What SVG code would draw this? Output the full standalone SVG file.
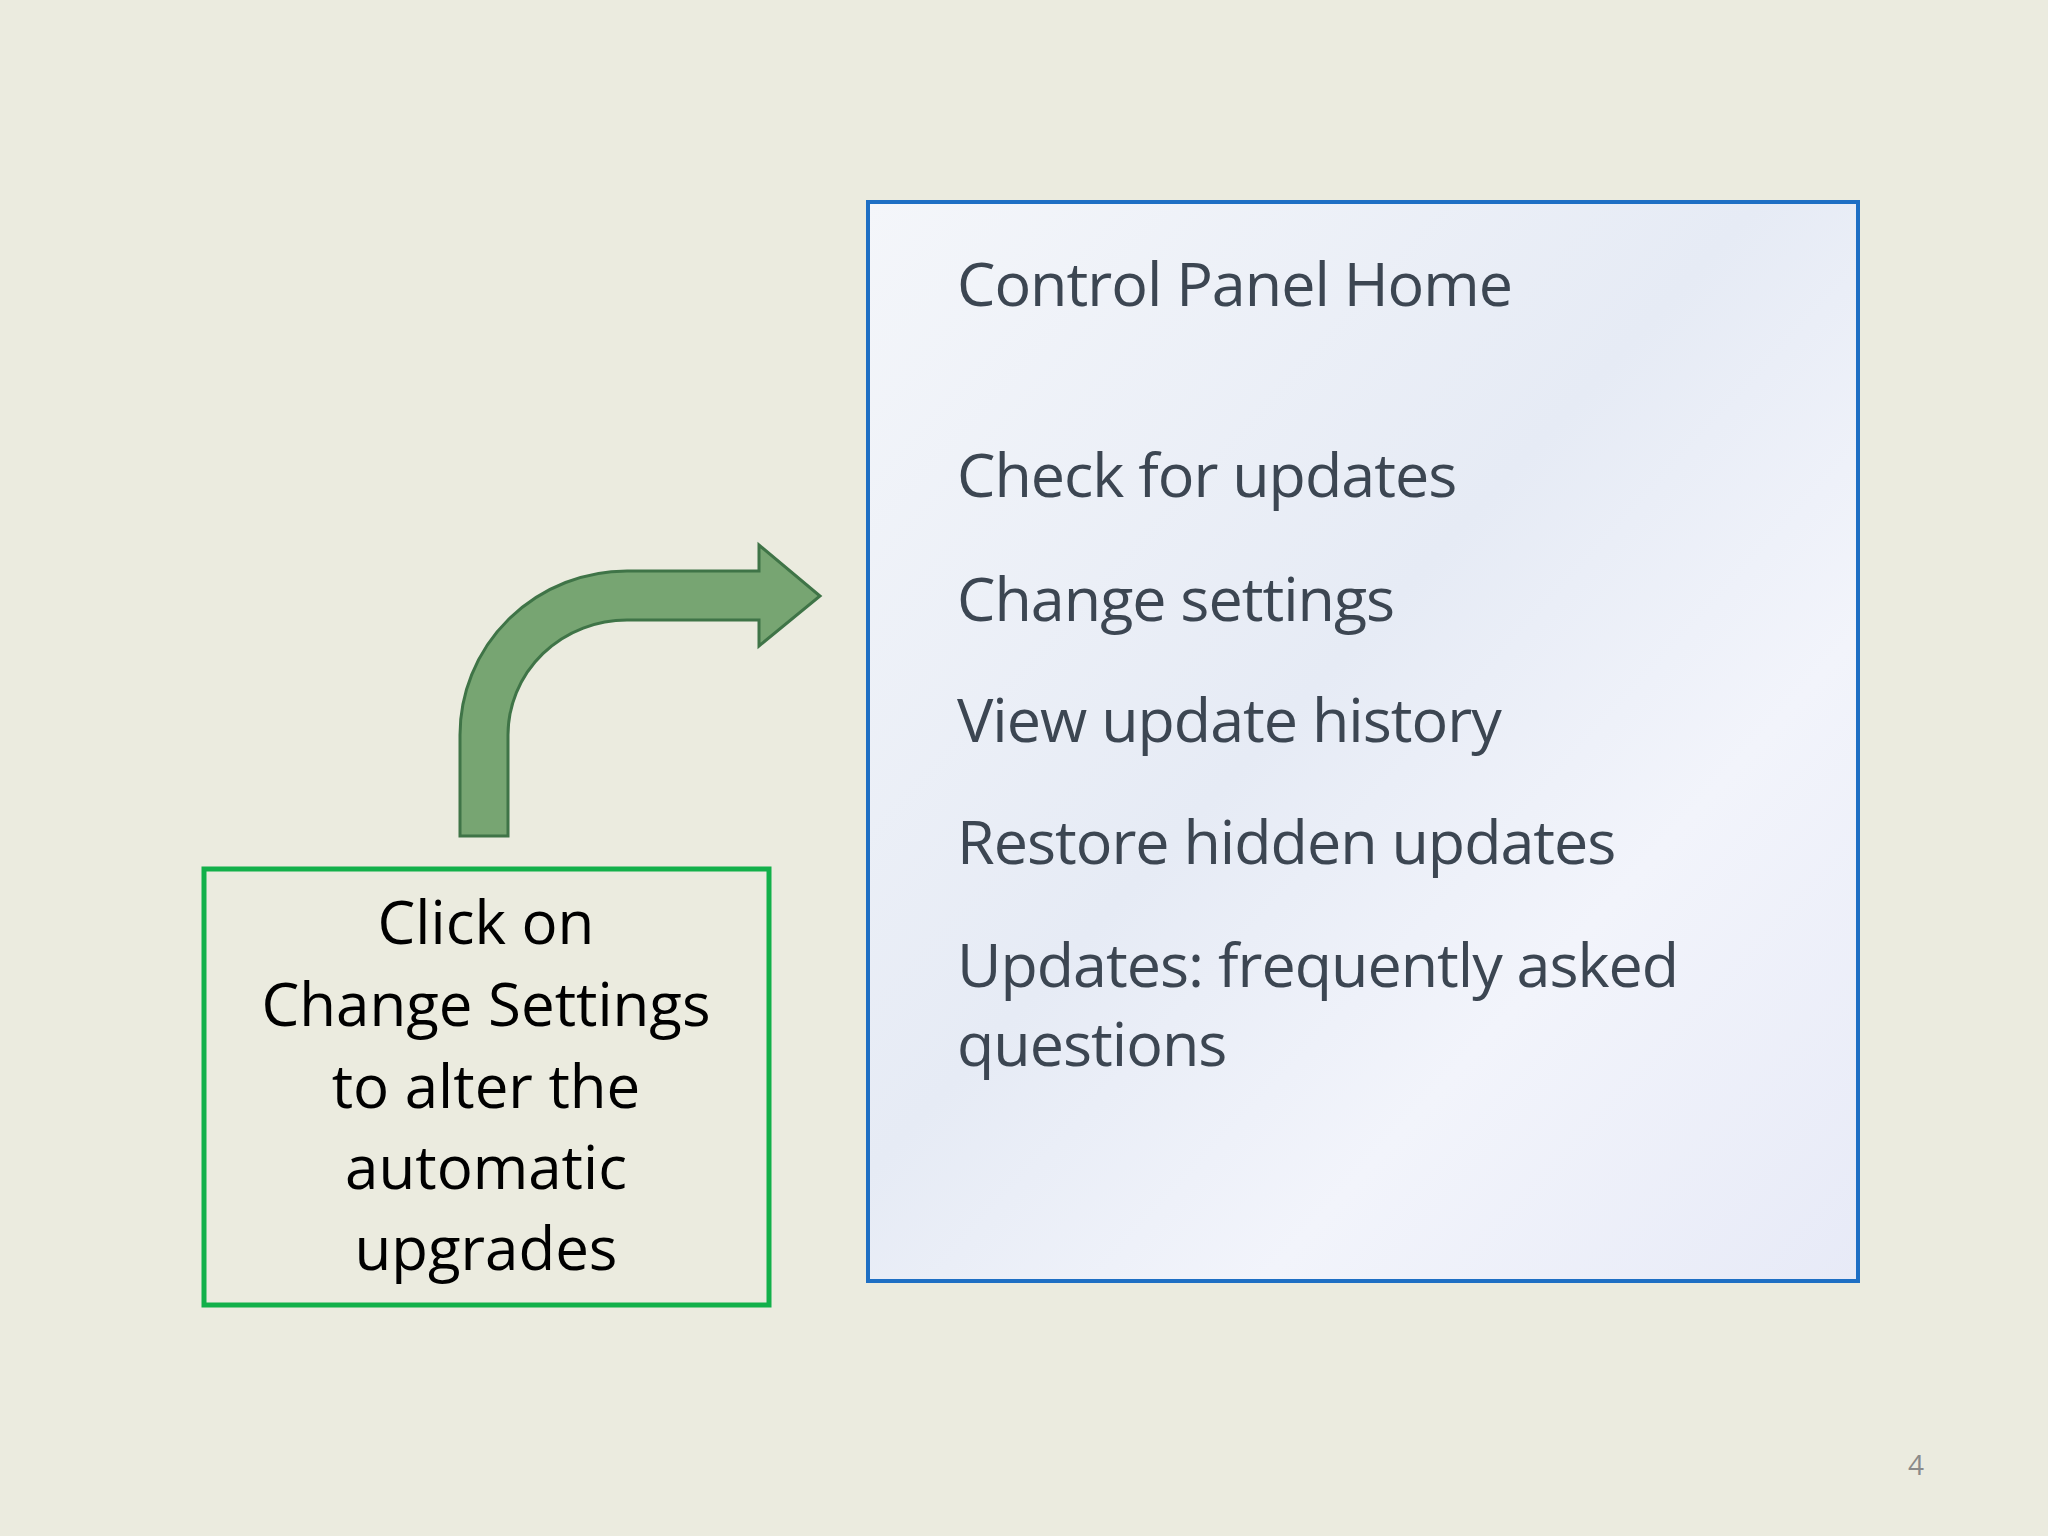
<svg xmlns="http://www.w3.org/2000/svg" width="2048" height="1536" viewBox="0 0 2048 1536">
<defs>
<linearGradient id="pg" x1="0" y1="0" x2="1" y2="1">
<stop offset="0" stop-color="#f4f6fa"/>
<stop offset="0.45" stop-color="#e6ebf5"/>
<stop offset="0.7" stop-color="#f2f4fb"/>
<stop offset="1" stop-color="#e7eaf7"/>
</linearGradient>
<style>
.p{font-family:"Open Sans","Noto Sans",sans-serif;font-size:61px;letter-spacing:-1px;fill:#3c4652}
.c{font-family:"Open Sans","Noto Sans",sans-serif;font-size:60px;fill:#000;text-anchor:middle}
</style>
</defs>
<rect width="2048" height="1536" fill="#ebebdf"/>
<g id="panel">
<rect x="868" y="202" width="990" height="1079" fill="url(#pg)" stroke="#1e6fc4" stroke-width="4"/>
<text class="p" x="957" y="306">Control Panel Home</text>
<text class="p" x="957" y="497">Check for updates</text>
<text class="p" x="957" y="621">Change settings</text>
<text class="p" x="957" y="742">View update history</text>
<text class="p" x="957" y="864">Restore hidden updates</text>
<text class="p" x="957" y="987">Updates: frequently asked</text>
<text class="p" x="957" y="1066">questions</text>
</g>
<g id="callout">
<rect x="204" y="869" width="565" height="436" fill="none" stroke="#12b04a" stroke-width="5"/>
<text class="c" x="486" y="944">Click on</text>
<text class="c" x="486" y="1026">Change Settings</text>
<text class="c" x="486" y="1108">to alter the</text>
<text class="c" x="486" y="1189">automatic</text>
<text class="c" x="486" y="1270">upgrades</text>
</g>
<g id="connectors">
<path d="M460 836 L460 735 A167 164 0 0 1 627 571 L759 571 L759 545 L820 596 L759 646 L759 620 L627 620 A119 115 0 0 0 508 735 L508 836 Z" fill="#77a572" stroke="#3f7447" stroke-width="3"/>
</g>
<text x="1916" y="1475" font-family="Open Sans,sans-serif" font-size="28" fill="#8a8a8a" text-anchor="middle">4</text>
</svg>
